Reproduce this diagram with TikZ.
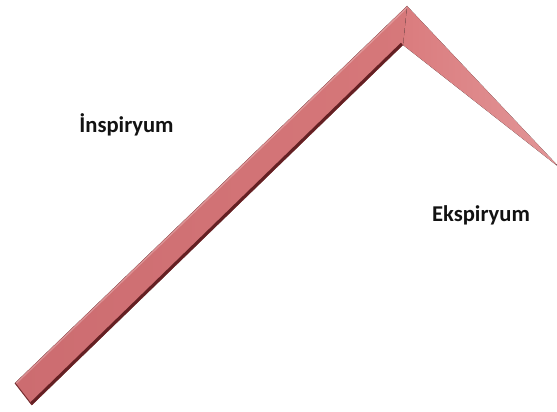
\documentclass[tikz,border=0pt]{standalone}
\usepackage{fontspec}
\setmainfont{Carlito}
\usetikzlibrary{calc}
\definecolor{barpink}{RGB}{204,108,112}
\definecolor{barred}{RGB}{184,62,67}
\definecolor{bartop}{RGB}{214,120,122}
\definecolor{baredge}{RGB}{100,32,35}
\definecolor{wedgepink}{RGB}{218,124,126}
\definecolor{wedgered}{RGB}{204,76,82}
\definecolor{wedgetip}{RGB}{226,150,152}
\definecolor{labeltext}{RGB}{18,18,18}
\tikzset{
  lbl/.style={anchor=base, text=labeltext, font=\bfseries\fontsize{22.6}{27}\selectfont, inner sep=0pt},
  barface/.style={left color=barpink, middle color=barred, right color=bartop},
  wedgeface/.style={left color=wedgepink, middle color=wedgered, right color=wedgetip},
}
\begin{document}
\begin{tikzpicture}[x=1pt,y=1pt]
\useasboundingbox (0,0) rectangle (557,412);
% key points of the bar and the wedge
\coordinate (endtop) at (15,29);
\coordinate (endlow) at (32,7);
\coordinate (peak) at (407,406);
\coordinate (inner) at (403,367);
\coordinate (tip) at (560,244);
% wedge (expiration)
\fill[wedgeface] (peak) -- (tip) -- (inner) -- cycle;
% bar (inspiration)
\fill[barface] (endtop) -- (peak) -- (inner) -- (endlow) -- cycle;
% light upper edge
\draw[line width=1.2pt, white, opacity=0.25] ($(endtop)+(0.8,-0.8)$) -- ($(peak)+(0,-1.6)$);
% dark lower edge
\draw[line width=3pt, baredge] ($(endlow)+(-1.1,1.1)$) -- ($(inner)+(-1.1,1.1)$);
% bottom end cap
\draw[line width=1pt, baredge!80!barpink] (endtop) -- (endlow);
% labels
\node[lbl] (insp) at (126.5,279) {İnspiryum};
\node[lbl] (eksp) at (481,190.3) {Ekspiryum};
\end{tikzpicture}
\end{document}
